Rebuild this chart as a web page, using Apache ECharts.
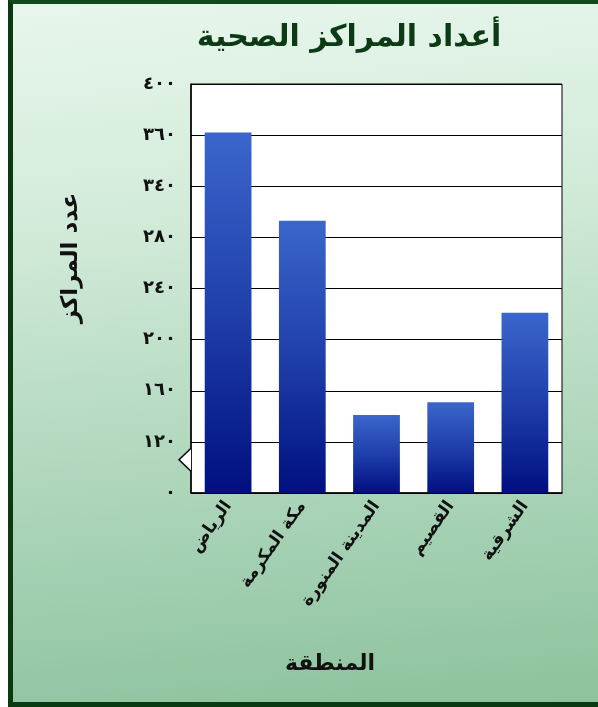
<!DOCTYPE html>
<html>
<head>
<meta charset="utf-8">
<script src="https://cdn.jsdelivr.net/npm/echarts@6/dist/echarts.min.js"></script>
<style>
html,body{margin:0;padding:0;background:#fff;overflow:hidden;}
#bg{position:absolute;left:8px;top:0;width:600px;height:707px;box-sizing:border-box;
border-left:5px solid #0b3a12;border-top:4px solid #0f4a1a;border-bottom:5px solid #0b3a12;
background:linear-gradient(175deg,#e8f6ec 0%,#d2ebd9 30%,#aed6bb 65%,#8cc29e 100%);}
#chart{position:absolute;left:0;top:0;width:598px;height:707px;}
</style>
</head>
<body>
<div id="bg"></div>
<div id="chart"></div>
<script>
const titleText = 'أعداد المراكز الصحية';
const yAxisName = 'عدد المراكز';
const xAxisName = 'المنطقة';
const categories = ['الرياض', 'مكة المكرمة', 'المدينة المنورة', 'القصيم', 'الشرقية'];
const centers = [362, 293, 141, 151, 221];
// axis break: bottom tick shows 0, the axis is cut between 0 and 120
const tickValues = [80, 120, 160, 200, 240, 280, 320, 360, 400];
const tickLabels = ['٠', '١٢٠', '١٦٠', '٢٠٠', '٢٤٠', '٢٨٠', '٣٤٠', '٣٦٠', '٤٠٠'];

const FONT = 'DejaVu Sans';
const chart = echarts.init(document.getElementById('chart'), null, {renderer: 'canvas'});
const option = {
  backgroundColor: 'transparent',
  animation: false,
  title: {
    text: titleText, left: 344, top: 18, textAlign: 'center',
    textStyle: {fontFamily: FONT, fontWeight: 'bold', fontSize: 30, color: '#0c3a14'}
  },
  grid: {
    left: 191, right: 36, top: 84, bottom: 214,
    show: true, backgroundColor: '#ffffff', borderColor: '#000', borderWidth: 1
  },
  xAxis: {
    type: 'category', data: categories,
    axisLine: {lineStyle: {color: '#000', width: 1.5}},
    axisTick: {show: false},
    axisLabel: {
      rotate: 55, margin: 10, interval: 0,
      fontFamily: FONT, fontWeight: 'bold', fontSize: 17, color: '#111'
    }
  },
  yAxis: {
    type: 'value', min: 80, max: 400, interval: 40,
    axisLine: {show: true, lineStyle: {color: '#000', width: 1.5}},
    axisTick: {show: false},
    splitLine: {lineStyle: {color: '#000', width: 1}},
    axisLabel: {
      margin: 15, fontFamily: FONT, fontWeight: 'bold', fontSize: 18, color: '#111',
      formatter: function (v) {
        const i = tickValues.indexOf(v);
        return i >= 0 ? tickLabels[i] : '';
      }
    }
  },
  series: [{
    type: 'bar', data: centers, barCategoryGap: '37%', clip: true,
    itemStyle: {
      color: new echarts.graphic.LinearGradient(0, 0, 0, 1, [
        {offset: 0, color: '#3b66cb'},
        {offset: 0.5, color: '#1f3faa'},
        {offset: 1, color: '#000f80'}
      ])
    }
  }]
};
chart.setOption(option);

// decorations: axis names and the axis-break notch
const gx = 191;
const yTop = chart.convertToPixel({yAxisIndex: 0}, 115);
const yMid = chart.convertToPixel({yAxisIndex: 0}, 106);
const yBot = chart.convertToPixel({yAxisIndex: 0}, 97);
chart.setOption({
  graphic: [
    {
      type: 'polyline', z: 100,
      shape: {points: [[gx, yTop], [gx - 12, yMid], [gx, yBot]]},
      style: {fill: '#ffffff', stroke: '#000', lineWidth: 1.5}
    },
    {
      type: 'text', x: 71, y: 258, rotation: Math.PI / 2, z: 100,
      style: {text: yAxisName, fontFamily: FONT, fontWeight: 'bold', fontSize: 23, fill: '#111',
        align: 'center', verticalAlign: 'middle'}
    },
    {
      type: 'text', x: 330, y: 664, z: 100,
      style: {text: xAxisName, fontFamily: FONT, fontWeight: 'bold', fontSize: 22, fill: '#111',
        align: 'center', verticalAlign: 'middle'}
    }
  ]
});
</script>
</body>
</html>
